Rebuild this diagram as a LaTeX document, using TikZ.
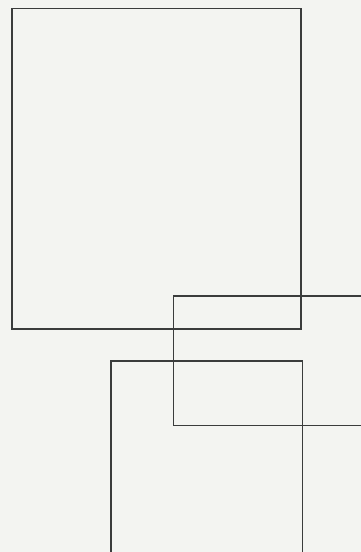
\documentclass[tikz,border=0pt]{standalone}
\definecolor{paper}{HTML}{F3F4F1}
\definecolor{ink}{HTML}{3A3C3C}
\begin{document}
\begin{tikzpicture}[x=1pt,y=-1pt,frame/.style={draw=ink,line width=1.1pt}]
\fill[paper] (0,0) rectangle (361,552);
\useasboundingbox (0,0) rectangle (361,552);
\draw[frame] (12,8.5) rectangle (301,329);
\draw[frame] (365,296) -- (173.5,296) -- (173.5,425.5) -- (365,425.5);
\draw[frame] (111,556) -- (111,361) -- (302.5,361) -- (302.5,556);
\end{tikzpicture}
\end{document}
